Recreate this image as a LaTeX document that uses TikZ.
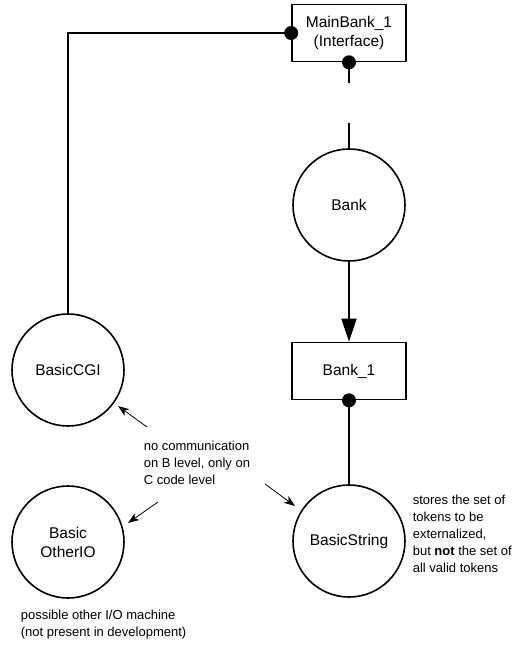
\documentclass[tikz,border=0pt]{standalone}
\usepackage{fontspec}
\setmainfont{Liberation Sans}
\usetikzlibrary{arrows.meta}
\begin{document}
\begin{tikzpicture}[x=1pt,y=-1pt,
  line width=1.6pt,
  machine/.style={draw,circle,minimum size=112pt,inner sep=0pt,align=center,font=\fontsize{15.5}{19}\selectfont},
  impl/.style={draw,rectangle,minimum width=114pt,minimum height=57pt,inner sep=0pt,align=center,font=\fontsize{15.5}{19}\selectfont},
  note/.style={align=left,inner sep=0pt,font=\fontsize{13}{17}\selectfont},
  dot/.style={circle,fill=black,inner sep=0pt,minimum size=14pt},
  hint/.style={line width=0.8pt,-{Stealth[length=11pt,width=8pt,inset=3pt]}}
]
\useasboundingbox (0,0) rectangle (515,647);

% machines and implementations
\node[impl] (mb) at (349,33) {MainBank\_1\\(Interface)};
\node[machine] (bank) at (349,205) {Bank};
\node[impl] (bank1) at (349,371) {Bank\_1};
\node[machine] (bs) at (349,541) {BasicString};
\node[machine] (cgi) at (68,370) {BasicCGI};
\node[machine] (oio) at (68,542) {Basic\\OtherIO};

% SEES link to BasicCGI
\draw (mb.west) -| (cgi.north);
\node[dot] at (mb.west) {};

% interrupted refinement link
\coordinate (gapA) at (349,83);
\coordinate (gapB) at (349,123);
\draw (mb.south) -- (gapA);
\draw (gapB) -- (bank.north);
\node[dot] at (mb.south) {};

% implementation arrow
\draw[-{Triangle[length=23pt,width=15pt]}] (bank.south) -- (bank1.north);

% IMPORTS link to BasicString
\draw (bank1.south) -- (bs.north);
\node[dot] at (bank1.south) {};

% annotations
\node[note,anchor=north west] (ncomm) at (143,440)
  {no communication\\on B level, only on\\C code level};
\coordinate (t1) at (147,427); \coordinate (h1) at (118,406);
\coordinate (t2) at (265,484); \coordinate (h2) at (295,506);
\coordinate (t3) at (158,502); \coordinate (h3) at (128,523);
\draw[hint] (t1) -- (h1);
\draw[hint] (t2) -- (h2);
\draw[hint] (t3) -- (h3);

\node[note,anchor=north west] (nbs) at (412,494)
  {stores the set of\\tokens to be\\externalized,\\but \textbf{not} the set of\\all valid tokens};
\node[note,anchor=north west] (noio) at (20,609)
  {possible other I/O machine\\(not present in development)};
\end{tikzpicture}
\end{document}
